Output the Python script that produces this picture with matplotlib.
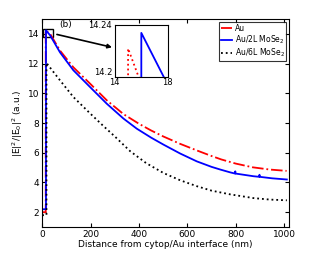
import matplotlib
matplotlib.use('Agg')
import matplotlib.pyplot as plt
from matplotlib.patches import Rectangle

# distance (nm) and normalised intensity
x_au = [0, 15, 15, 15.8, 33, 74, 129, 198, 267, 336, 400, 450, 500, 570, 640,
        700, 740, 800, 870, 940, 1010]
y_au = [2.0, 2.0, 14.222, 14.2, 14.0, 12.87, 11.75, 10.65, 9.53, 8.6, 7.95, 7.5,
        7.1, 6.6, 6.15, 5.78, 5.55, 5.27, 5.02, 4.87, 4.78]

x_2l = [0, 16, 16, 17.7, 33, 74, 129, 198, 267, 336, 391, 450, 501, 570, 639,
        700, 736, 777, 797, 798, 799, 873, 897, 898, 899, 950, 1011]
y_2l = [2.2, 2.2, 14.234, 14.2, 13.9, 12.75, 11.55, 10.42, 9.3, 8.3, 7.62, 7.02,
        6.55, 5.95, 5.42, 5.05, 4.87, 4.68, 4.6, 4.75, 4.6, 4.42, 4.38, 4.52, 4.38,
        4.28, 4.2]

x_6l = [0, 18, 18, 20, 46, 74, 129, 198, 253, 300, 364, 430, 501, 570, 639, 700,
        777, 873, 940, 1011]
y_6l = [1.8, 1.8, 12.05, 12.0, 11.45, 10.87, 9.75, 8.65, 7.8, 7.1, 6.1, 5.3,
        4.64, 4.15, 3.75, 3.45, 3.2, 2.95, 2.85, 2.8]

labels = ['Au', 'Au/2L MoSe$_2$', 'Au/6L MoSe$_2$']

fig = plt.figure(figsize=(3.19, 2.56), dpi=100)
ax = fig.add_axes([0.132, 0.113, 0.774, 0.813])

ax.plot(x_au, y_au, 'r-.', lw=1.3, label=labels[0])
ax.plot(x_2l, y_2l, 'b-', lw=1.3, label=labels[1])
ax.plot(x_6l, y_6l, 'k:', lw=1.3, label=labels[2])

ax.set_xlim(0, 1020)
ax.set_ylim(1, 15)
ax.set_xticks(range(0, 1001, 200))
ax.set_yticks(range(2, 15, 2))
ax.tick_params(direction='in', top=True, right=True, labelsize=6.5, length=3, pad=2)
ax.set_xlabel('Distance from cytop/Au interface (nm)', fontsize=6.5, labelpad=1)
ax.set_ylabel(r'|E|$^2$/|E$_0$|$^2$ (a.u.)', fontsize=6.5, labelpad=2)
ax.text(70, 14.45, '(b)', fontsize=6.5)

ax.add_patch(Rectangle((5, 13.8), 40, 0.55, fill=False, ec='k', lw=1))
ax.annotate('', xy=(300, 13.05), xytext=(50, 14.0),
            arrowprops=dict(arrowstyle='-|>', color='k', lw=1.2, mutation_scale=6))

leg = ax.legend(loc='upper right', fontsize=5.5, frameon=True, fancybox=False,
                edgecolor='k', handlelength=1.5, borderpad=0.2, labelspacing=0.1,
                handletextpad=0.3, borderaxespad=0.4)
leg.get_frame().set_linewidth(0.8)

# zoomed inset
ins = fig.add_axes([0.36, 0.699, 0.166, 0.203])
ins.plot(x_au, y_au, 'r:', lw=1.3)
ins.plot(x_2l, y_2l, 'b-', lw=1.3)
ins.set_xlim(14, 18)
ins.set_ylim(14.2, 14.24)
ins.set_xticks([14, 18])
ins.set_yticks([14.2, 14.24])
ins.set_yticklabels(['14.2', '14.24'])
ins.tick_params(direction='in', labelsize=6, length=0, pad=1)
ins.tick_params(axis='y', pad=2)
for lab in ins.get_yticklabels():
    lab.set_verticalalignment('center')
ins.get_yticklabels()[0].set_verticalalignment('bottom')

fig.savefig('out.png', dpi=100)
